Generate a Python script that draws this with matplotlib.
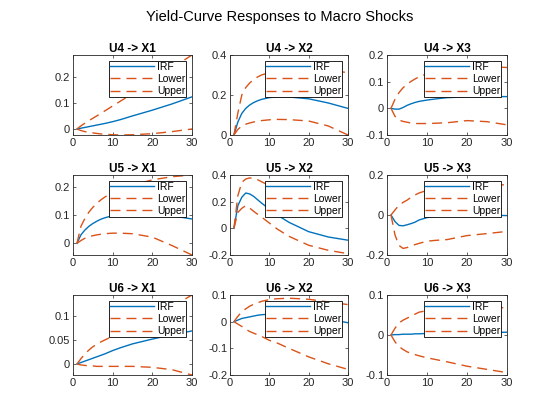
import matplotlib
matplotlib.use('Agg')
import matplotlib.pyplot as plt

plt.rcParams['font.family'] = ['Liberation Sans', 'DejaVu Sans']

# horizons where the responses were read
h = [1, 2, 3, 4, 5, 6, 7, 8, 10, 12, 15, 20, 25, 30]

shocks = ['U4', 'U5', 'U6']
states = ['X1', 'X2', 'X3']

# U4 responses
irf_u4_x1 = [0, 0.003, 0.006, 0.009, 0.012, 0.015, 0.018, 0.021, 0.028, 0.036, 0.05, 0.072, 0.096, 0.123]
up_u4_x1 = [0, 0.012, 0.022, 0.032, 0.041, 0.05, 0.06, 0.069, 0.088, 0.107, 0.135, 0.185, 0.234, 0.283]
lo_u4_x1 = [0, -0.006, -0.01, -0.013, -0.015, -0.017, -0.019, -0.02, -0.022, -0.023, -0.022, -0.018, -0.01, 0.0]

irf_u4_x2 = [0, 0.065, 0.108, 0.133, 0.15, 0.162, 0.171, 0.178, 0.187, 0.19, 0.19, 0.181, 0.16, 0.133]
up_u4_x2 = [0, 0.11, 0.2, 0.237, 0.26, 0.277, 0.29, 0.3, 0.312, 0.32, 0.327, 0.33, 0.323, 0.312]
lo_u4_x2 = [0, 0.028, 0.045, 0.054, 0.06, 0.065, 0.069, 0.072, 0.076, 0.078, 0.077, 0.07, 0.045, 0.0]

irf_u4_x3 = [0, -0.003, -0.003, 0.003, 0.011, 0.017, 0.022, 0.026, 0.031, 0.035, 0.04, 0.043, 0.044, 0.044]
up_u4_x3 = [0, 0.034, 0.059, 0.077, 0.09, 0.101, 0.11, 0.118, 0.13, 0.138, 0.147, 0.155, 0.158, 0.153]
lo_u4_x3 = [0, -0.03, -0.044, -0.049, -0.052, -0.055, -0.057, -0.057, -0.057, -0.056, -0.054, -0.046, -0.05, -0.062]

# U5 responses
irf_u5_x1 = [0, 0.03, 0.047, 0.06, 0.07, 0.078, 0.085, 0.09, 0.098, 0.102, 0.105, 0.103, 0.097, 0.086]
up_u5_x1 = [0, 0.06, 0.088, 0.11, 0.127, 0.141, 0.153, 0.163, 0.18, 0.192, 0.205, 0.224, 0.235, 0.241]
lo_u5_x1 = [0, 0.01, 0.018, 0.023, 0.027, 0.03, 0.032, 0.034, 0.036, 0.036, 0.034, 0.022, -0.008, -0.041]

irf_u5_x2 = [0, 0.17, 0.233, 0.265, 0.258, 0.24, 0.215, 0.19, 0.144, 0.1, 0.045, -0.025, -0.065, -0.089]
up_u5_x2 = [0, 0.245, 0.345, 0.37, 0.378, 0.375, 0.365, 0.35, 0.32, 0.29, 0.255, 0.21, 0.185, 0.165]
lo_u5_x2 = [0, 0.12, 0.15, 0.17, 0.152, 0.128, 0.106, 0.085, 0.04, -0.005, -0.06, -0.127, -0.165, -0.19]

irf_u5_x3 = [0, -0.033, -0.052, -0.054, -0.049, -0.043, -0.036, -0.025, -0.013, -0.007, -0.003, 0.001, 0.0, -0.003]
up_u5_x3 = [0, 0.025, 0.049, 0.063, 0.074, 0.088, 0.1, 0.11, 0.123, 0.132, 0.14, 0.145, 0.15, 0.151]
lo_u5_x3 = [0, -0.1, -0.152, -0.167, -0.163, -0.155, -0.148, -0.142, -0.131, -0.127, -0.123, -0.103, -0.093, -0.082]

# U6 responses
irf_u6_x1 = [0, 0.003, 0.006, 0.009, 0.012, 0.015, 0.018, 0.021, 0.028, 0.034, 0.042, 0.052, 0.061, 0.069]
up_u6_x1 = [0, 0.011, 0.021, 0.029, 0.036, 0.041, 0.046, 0.05, 0.058, 0.066, 0.078, 0.098, 0.12, 0.144]
lo_u6_x1 = [0, -0.002, -0.003, -0.004, -0.004, -0.005, -0.005, -0.005, -0.005, -0.005, -0.005, -0.007, -0.012, -0.023]

irf_u6_x2 = [0, 0.006, 0.012, 0.015, 0.018, 0.021, 0.024, 0.026, 0.028, 0.029, 0.027, 0.02, 0.01, -0.004]
up_u6_x2 = [0, 0.02, 0.037, 0.048, 0.058, 0.065, 0.071, 0.076, 0.083, 0.086, 0.088, 0.084, 0.074, 0.064]
lo_u6_x2 = [0, -0.009, -0.018, -0.028, -0.037, -0.043, -0.049, -0.055, -0.07, -0.08, -0.1, -0.132, -0.158, -0.179]

irf_u6_x3 = [0, 0.001, 0.001, 0.002, 0.002, 0.002, 0.003, 0.003, 0.004, 0.004, 0.005, 0.006, 0.006, 0.007]
up_u6_x3 = [0, 0.017, 0.03, 0.037, 0.042, 0.047, 0.052, 0.057, 0.061, 0.064, 0.067, 0.069, 0.069, 0.068]
lo_u6_x3 = [0, -0.017, -0.029, -0.036, -0.042, -0.046, -0.049, -0.052, -0.057, -0.061, -0.067, -0.078, -0.086, -0.094]

panels = [
    [(irf_u4_x1, lo_u4_x1, up_u4_x1), (irf_u4_x2, lo_u4_x2, up_u4_x2), (irf_u4_x3, lo_u4_x3, up_u4_x3)],
    [(irf_u5_x1, lo_u5_x1, up_u5_x1), (irf_u5_x2, lo_u5_x2, up_u5_x2), (irf_u5_x3, lo_u5_x3, up_u5_x3)],
    [(irf_u6_x1, lo_u6_x1, up_u6_x1), (irf_u6_x2, lo_u6_x2, up_u6_x2), (irf_u6_x3, lo_u6_x3, up_u6_x3)],
]

# y limits (None = tight to the data) and y ticks
ylims = [
    [None, (0, 0.4), (-0.1, 0.2)],
    [None, (-0.2, 0.4), (-0.2, 0.2)],
    [None, (-0.2, 0.1), (-0.1, 0.1)],
]
yticks = [
    [[0, 0.1, 0.2], [0, 0.2, 0.4], [-0.1, 0, 0.1, 0.2]],
    [[0, 0.1, 0.2], [-0.2, 0, 0.2, 0.4], [-0.2, 0, 0.2]],
    [[0, 0.05, 0.1], [-0.2, -0.1, 0, 0.1], [-0.1, 0, 0.1]],
]

blue = '#0072BD'
orange = '#D95319'
dk = '#262626'

W, H = 560, 420
fig = plt.figure(figsize=(5.6, 4.2), dpi=100)

col_x = [73, 230, 387]
col_w = [119, 118, 120]
row_top = [55, 175, 295]
ax_h = 80

for i in range(3):
    for j in range(3):
        ax = fig.add_axes([col_x[j] / W, 1 - (row_top[i] + ax_h) / H, col_w[j] / W, ax_h / H])
        irf, lo, up = panels[i][j]
        ax.plot(h, irf, color=blue, lw=1.0, label='IRF')
        ax.plot(h, lo, color=orange, lw=1.0, linestyle=(0, (7.2, 4.3)), label='Lower')
        ax.plot(h, up, color=orange, lw=1.0, linestyle=(0, (7.2, 4.3)), label='Upper')
        ax.set_xlim(0, 30)
        ax.set_xticks([0, 10, 20, 30])
        if ylims[i][j] is None:
            ax.set_ylim(min(lo), max(up))
        else:
            ax.set_ylim(*ylims[i][j])
        ax.set_yticks(yticks[i][j])
        ax.set_yticklabels([('%g' % v) for v in yticks[i][j]])
        ax.set_title(f'{shocks[i]} -> {states[j]}', fontsize=8.5, fontweight='bold', pad=2.5, color='black')
        ax.tick_params(direction='in', length=2.5, width=0.5, labelsize=8, colors=dk,
                       top=True, right=True, pad=2)
        for s in ax.spines.values():
            s.set_linewidth(0.6)
            s.set_color(dk)
        leg = ax.legend(loc='upper right', fontsize=7.5, frameon=True, fancybox=False,
                        handlelength=4.2, handletextpad=0.3, borderpad=0.12,
                        labelspacing=0.2, borderaxespad=0.55)
        leg.get_frame().set_edgecolor('black')
        leg.get_frame().set_linewidth(0.6)
        leg.get_frame().set_alpha(1)

fig.suptitle('Yield-Curve Responses to Macro Shocks', fontsize=10.5, y=1 - 17 / H, va='center')

fig.savefig('out.png', dpi=100)
